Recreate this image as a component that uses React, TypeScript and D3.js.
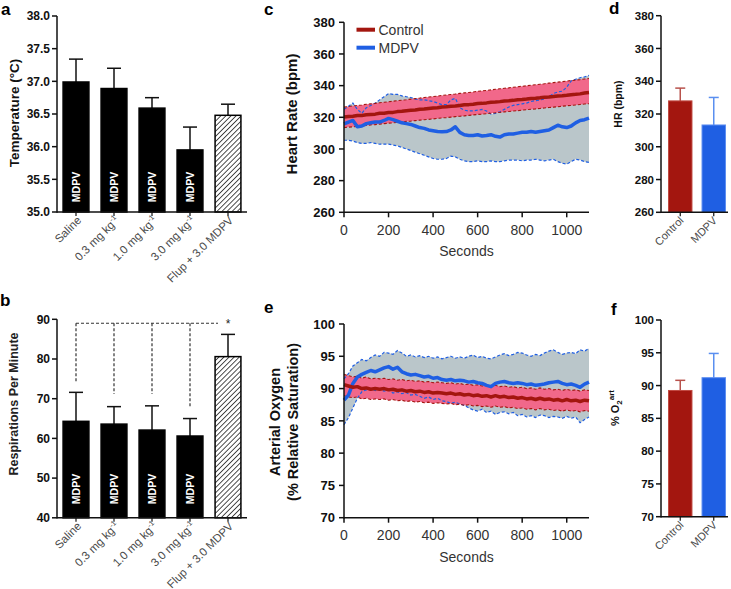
import React from 'react';
import * as d3 from 'd3';

const FONT = "'Liberation Sans', Arial, Helvetica, sans-serif";

// ---------- Panels a & b (bar charts) ----------
const barCats = ['Saline', '0.3 mg kg', '1.0 mg kg', '3.0 mg kg', 'Flup + 3.0 MDPV'];
const barSup = ['', '-1', '-1', '-1', ''];
const barHatched = [false, false, false, false, true];
const barInnerLabel = ['MDPV', 'MDPV', 'MDPV', 'MDPV', ''];
const tempMean = [36.99, 36.89, 36.59, 35.95, 36.48];
const tempErrTop = [37.34, 37.2, 36.75, 36.3, 36.65];
const tempTicks = [35.0, 35.5, 36.0, 36.5, 37.0, 37.5, 38.0];
const respMean = [64.3, 63.6, 62.1, 60.6, 80.6];
const respErrTop = [71.6, 68.0, 68.2, 65.0, 86.2];
const respTicks = [40, 50, 60, 70, 80, 90];
const bracketDrop = [74.3, 71.2, 71.2, 67.9];
const bracketLevel = 89;

// ---------- Panels d & f (group bars) ----------
const groupCats = ['Control', 'MDPV'];
const hrBarMean = [328.0, 313.3];
const hrBarErrTop = [335.8, 330.1];
const hrTicks = [260, 280, 300, 320, 340, 360, 380];
const o2BarMean = [89.25, 91.2];
const o2BarErrTop = [90.8, 94.9];
const o2Ticks = [70, 75, 80, 85, 90, 95, 100];

// ---------- Panels c & e (time series) ----------
const secTicks = [0, 200, 400, 600, 800, 1000];
const timeSec = [0, 20, 40, 60, 80, 100, 120, 140, 160, 180, 200, 220, 240, 260, 280, 300, 320, 340, 360, 380, 400, 420, 440, 460, 480, 500, 520, 540, 560, 580, 600, 620, 640, 660, 680, 700, 720, 740, 760, 780, 800, 820, 840, 860, 880, 900, 920, 940, 960, 980, 1000, 1020, 1040, 1060, 1080, 1100];

const hrCtlMean = [320.2, 320.5, 320.7, 321.1, 321.2, 321.6, 321.8, 322.0, 322.5, 322.6, 323.0, 323.1, 323.6, 323.8, 324.2, 324.4, 324.6, 325.1, 325.2, 325.6, 325.8, 326.0, 326.5, 326.6, 327.0, 327.1, 327.5, 327.9, 328.0, 328.3, 328.7, 328.8, 329.1, 329.5, 329.6, 329.9, 330.3, 330.4, 330.7, 331.1, 331.2, 331.5, 331.9, 332.0, 332.3, 332.7, 332.8, 333.1, 333.5, 333.6, 333.9, 334.3, 334.5, 334.8, 335.3, 335.6];
const hrCtlHi = [326.5, 326.8, 327.2, 327.5, 327.8, 328.2, 328.5, 328.8, 329.2, 329.5, 329.8, 330.2, 330.5, 330.8, 331.1, 331.5, 331.8, 332.1, 332.5, 332.8, 333.1, 333.4, 333.8, 334.1, 334.4, 334.7, 335.1, 335.4, 335.7, 336.0, 336.4, 336.7, 337.0, 337.3, 337.7, 338.0, 338.3, 338.6, 339.0, 339.3, 339.6, 339.9, 340.3, 340.6, 340.9, 341.2, 341.6, 341.9, 342.2, 342.5, 342.9, 343.2, 343.5, 343.8, 344.2, 344.5];
const hrCtlLo = [313.5, 313.8, 314.0, 314.3, 314.6, 314.9, 315.2, 315.4, 315.7, 316.0, 316.3, 316.5, 316.8, 317.1, 317.4, 317.6, 317.9, 318.2, 318.5, 318.7, 319.0, 319.3, 319.6, 319.8, 320.1, 320.4, 320.7, 320.9, 321.2, 321.5, 321.8, 322.0, 322.3, 322.6, 322.9, 323.1, 323.4, 323.7, 324.0, 324.2, 324.5, 324.8, 325.1, 325.3, 325.6, 325.9, 326.2, 326.4, 326.7, 327.0, 327.3, 327.5, 327.8, 328.1, 328.4, 328.6];
const hrMdMean = [315.8, 317.0, 318.0, 314.0, 314.5, 316.0, 316.5, 317.0, 317.0, 318.0, 319.3, 318.5, 317.5, 316.5, 316.0, 315.5, 314.5, 313.5, 313.0, 312.0, 311.5, 311.0, 310.8, 311.0, 312.0, 314.0, 310.5, 309.0, 308.5, 308.5, 309.0, 308.2, 308.5, 309.0, 308.0, 307.5, 309.0, 309.5, 309.5, 310.0, 310.5, 310.5, 311.0, 310.5, 311.0, 311.5, 312.0, 313.5, 315.0, 314.0, 313.5, 314.5, 316.5, 318.0, 318.5, 319.5];
const hrMdHi = [325.0, 327.0, 329.0, 325.0, 322.5, 326.0, 327.5, 329.0, 331.0, 333.0, 335.0, 334.5, 334.5, 333.5, 333.0, 332.5, 331.5, 331.0, 331.0, 330.5, 330.0, 329.0, 328.0, 328.0, 331.0, 332.0, 326.0, 324.5, 324.0, 324.0, 324.5, 325.0, 324.0, 322.0, 322.5, 323.5, 325.0, 326.5, 327.5, 328.0, 328.5, 329.0, 330.0, 330.5, 331.0, 331.5, 333.0, 335.0, 336.0, 336.5, 339.0, 343.0, 344.0, 345.0, 345.5, 346.5];
const hrMdLo = [305.5, 305.5, 305.0, 304.0, 303.5, 303.5, 304.0, 303.5, 303.0, 303.0, 303.0, 302.5, 302.0, 301.0, 300.0, 299.0, 298.0, 297.0, 296.0, 295.0, 294.0, 293.5, 293.5, 294.0, 295.5, 295.0, 293.5, 292.5, 292.0, 292.0, 292.5, 292.0, 292.0, 292.5, 292.0, 292.0, 292.5, 293.0, 293.0, 293.0, 292.5, 293.0, 293.0, 293.5, 293.0, 292.5, 293.0, 293.5, 292.0, 291.0, 290.5, 292.0, 293.5, 293.0, 292.0, 291.5];

const o2CtlMean = [90.6, 90.4, 90.2, 90.3, 90.0, 90.1, 89.9, 90.0, 89.9, 90.0, 89.8, 89.9, 89.7, 89.8, 89.6, 89.7, 89.5, 89.6, 89.4, 89.5, 89.3, 89.4, 89.3, 89.2, 89.3, 89.1, 89.2, 89.0, 89.1, 88.9, 89.0, 88.8, 88.9, 88.7, 88.9, 88.7, 88.8, 88.6, 88.7, 88.5, 88.6, 88.4, 88.5, 88.3, 88.5, 88.3, 88.4, 88.2, 88.3, 88.1, 88.3, 88.1, 88.2, 88.0, 88.2, 88.1];
const o2CtlHi = [92.2, 92.0, 91.8, 91.9, 91.6, 91.8, 91.5, 91.6, 91.5, 91.6, 91.4, 91.5, 91.3, 91.4, 91.2, 91.3, 91.1, 91.2, 91.0, 91.1, 90.9, 91.0, 90.9, 90.8, 90.9, 90.7, 90.8, 90.6, 90.7, 90.5, 90.6, 90.4, 90.5, 90.3, 90.5, 90.3, 90.4, 90.2, 90.3, 90.1, 90.2, 90.0, 90.1, 89.9, 90.1, 89.9, 90.0, 89.8, 89.9, 89.7, 89.9, 89.7, 89.8, 89.6, 89.8, 89.7];
const o2CtlLo = [88.9, 88.7, 88.6, 88.7, 88.4, 88.5, 88.3, 88.4, 88.3, 88.4, 88.2, 88.3, 88.1, 88.2, 88.0, 88.1, 87.9, 88.0, 87.8, 87.9, 87.7, 87.8, 87.7, 87.6, 87.7, 87.5, 87.6, 87.4, 87.5, 87.3, 87.4, 87.2, 87.3, 87.1, 87.3, 87.1, 87.2, 87.0, 87.1, 86.9, 87.0, 86.8, 86.9, 86.7, 86.9, 86.7, 86.8, 86.6, 86.7, 86.5, 86.7, 86.5, 86.6, 86.4, 86.6, 86.5];
const o2MdMean = [88.2, 89.0, 90.8, 91.8, 92.2, 92.5, 92.8, 92.6, 92.9, 93.2, 93.4, 93.0, 93.3, 92.6, 92.3, 92.1, 92.2, 92.0, 91.8, 91.9, 91.6, 91.7, 91.4, 91.3, 91.4, 91.2, 91.3, 91.2, 91.0, 91.1, 90.9, 90.8, 90.5, 90.3, 90.8, 91.0, 91.1, 90.9, 90.8, 90.9, 90.8, 90.6, 90.7, 90.5, 90.6, 90.7, 90.9, 91.0, 91.1, 90.8, 90.6, 90.7, 90.5, 90.2, 90.7, 91.0];
const o2MdHi = [91.5, 92.3, 93.5, 94.0, 94.5, 94.3, 94.8, 95.2, 95.0, 95.6, 95.5, 95.3, 95.9, 95.5, 95.0, 95.2, 94.9, 95.1, 94.8, 95.0, 94.7, 94.9, 94.6, 94.8, 95.0, 94.7, 94.9, 94.7, 95.0, 95.2, 94.8, 95.0, 94.7, 94.6, 94.9, 95.2, 95.4, 95.1, 95.3, 95.6, 95.5, 95.2, 95.0, 95.3, 95.1, 95.5, 95.8, 96.0, 95.6, 95.3, 95.5, 95.6, 95.4, 96.0, 95.8, 96.2];
const o2MdLo = [84.4, 85.5, 87.0, 88.5, 89.5, 89.8, 90.0, 89.7, 89.9, 89.6, 89.8, 89.3, 89.5, 89.2, 89.4, 89.0, 89.1, 88.8, 88.5, 88.7, 88.3, 88.5, 88.1, 88.0, 87.7, 87.9, 87.6, 87.4, 87.0, 86.7, 86.5, 86.8, 86.3, 86.5, 86.0, 86.3, 86.4, 86.1, 86.3, 85.8, 86.0, 85.6, 85.8, 85.5, 85.9, 85.8, 85.5, 85.7, 85.6, 85.4, 85.7, 85.4, 85.6, 84.7, 85.2, 85.6];

const C_RED = '#a3160f';
const C_BLUE = '#1f5fe3';
const C_PINK = '#f1688a';
const C_GRAY = '#bac6ca';
const AX = '#111';
const LBL = '#4a4a4a';

function YAxis({ x, y, ticks, fmt, fontSize, gap = 7 }: any) {
  const [r0, r1] = y.range();
  return (
    <g>
      <line x1={x} x2={x} y1={r0 + 0.75} y2={r1} stroke={AX} strokeWidth={1.5} />
      {ticks.map((t: number) => (
        <g key={t}>
          <line x1={x - 5} x2={x} y1={y(t)} y2={y(t)} stroke={AX} strokeWidth={1.5} />
          <text x={x - gap} y={y(t)} dy="0.36em" textAnchor="end" fontWeight="bold" fontSize={fontSize} fill="#111">
            {fmt(t)}
          </text>
        </g>
      ))}
    </g>
  );
}

function RotLabel({ x, y, text, size, weight = 'bold', fill = '#111' }: any) {
  return (
    <text transform={`translate(${x},${y}) rotate(-90)`} textAnchor="middle" dy="0.35em" fontSize={size} fontWeight={weight} fill={fill}>
      {text}
    </text>
  );
}

function DoseBars({ y, mean, errTop, ticks, fmt, mdpvY, yLabel }: any) {
  const x = d3.scaleBand<number>().domain(barCats.map((_, i) => i)).range([57, 247]).paddingInner(0.32).paddingOuter(0.16);
  const axisY = y.range()[0];
  const bw = x.bandwidth();
  return (
    <g>
      {barCats.map((c, i) => {
        const x0 = x(i)!;
        const cx = x0 + bw / 2;
        return (
          <g key={c}>
            <line x1={cx} x2={cx} y1={y(mean[i])} y2={y(errTop[i])} stroke={AX} strokeWidth={1.5} />
            <line x1={cx - 7} x2={cx + 7} y1={y(errTop[i])} y2={y(errTop[i])} stroke={AX} strokeWidth={1.5} />
            <rect x={x0} y={y(mean[i])} width={bw} height={axisY - y(mean[i])}
              fill={barHatched[i] ? 'url(#hatch)' : '#000'} stroke="#000" strokeWidth={1.5} />
            {barInnerLabel[i] && (
              <text transform={`translate(${cx},${mdpvY}) rotate(-90)`} textAnchor="middle" dy="0.35em" fill="#fff" fontWeight="bold" fontSize={10.5}>
                {barInnerLabel[i]}
              </text>
            )}
            <line x1={cx} x2={cx} y1={axisY} y2={axisY + 4} stroke={AX} strokeWidth={1.2} />
            <text transform={`translate(${cx + 6},${axisY + 9}) rotate(-45)`} textAnchor="end" fontSize={11.5} fill={LBL}>
              {c}
              {barSup[i] && <tspan dy={-4.5} fontSize={7.5}>{barSup[i]}</tspan>}
            </text>
          </g>
        );
      })}
      <line x1={57} x2={247} y1={axisY} y2={axisY} stroke={AX} strokeWidth={1.5} />
      <YAxis x={57} y={y} ticks={ticks} fmt={fmt} fontSize={12} />
      {yLabel}
    </g>
  );
}

function GroupBars({ y, mean, errTop, ticks, yLabel }: any) {
  const x = d3.scaleBand<number>().domain([0, 1]).range([663.5, 730.5]).paddingInner(0.3).paddingOuter(0.15);
  const axisY = y.range()[0];
  const bw = x.bandwidth();
  const fills = [C_RED, C_BLUE];
  const strokes = ['#c04a42', '#5d8ef0'];
  const errCols = ['#b8524c', '#5a8ff0'];
  return (
    <g>
      {groupCats.map((c, i) => {
        const x0 = x(i)!;
        const cx = x0 + bw / 2;
        return (
          <g key={c}>
            <line x1={cx} x2={cx} y1={y(mean[i])} y2={y(errTop[i])} stroke={errCols[i]} strokeWidth={1.5} />
            <line x1={cx - 5} x2={cx + 5} y1={y(errTop[i])} y2={y(errTop[i])} stroke={errCols[i]} strokeWidth={1.5} />
            <rect x={x0} y={y(mean[i])} width={bw} height={axisY - y(mean[i])} fill={fills[i]} stroke={strokes[i]} strokeWidth={1} />
            <line x1={cx} x2={cx} y1={axisY} y2={axisY + 4} stroke={AX} strokeWidth={1.2} />
            <text transform={`translate(${cx + 4},${axisY + 9}) rotate(-45)`} textAnchor="end" fontSize={11} fill={LBL}>{c}</text>
          </g>
        );
      })}
      <line x1={661} x2={728} y1={axisY} y2={axisY} stroke={AX} strokeWidth={1.5} />
      <YAxis x={661} y={y} ticks={ticks} fmt={(t: number) => String(t)} fontSize={11.5} />
      {yLabel}
    </g>
  );
}

function TimePanel({ y, ticks, ctl, md, legend, yLabel }: any) {
  const x = d3.scaleLinear().domain([0, 1100]).range([344, 589]);
  const axisY = y.range()[0];
  const band = (hi: number[], lo: number[]) =>
    d3.area<number>().x((t) => x(t)).y0((_, i) => y(lo[i])).y1((_, i) => y(hi[i]))(timeSec) || '';
  const line = (vals: number[]) => d3.line<number>().x((t) => x(t)).y((_, i) => y(vals[i]))(timeSec) || '';
  return (
    <g>
      <path d={band(md.hi, md.lo)} fill={C_GRAY} />
      <path d={band(ctl.hi, ctl.lo)} fill={C_PINK} />
      <path d={line(md.hi)} fill="none" stroke={C_BLUE} strokeWidth={1.2} strokeDasharray="3,2" />
      <path d={line(md.lo)} fill="none" stroke={C_BLUE} strokeWidth={1.2} strokeDasharray="3,2" />
      <path d={line(ctl.hi)} fill="none" stroke={C_RED} strokeWidth={1.1} strokeDasharray="3,2" />
      <path d={line(ctl.lo)} fill="none" stroke={C_RED} strokeWidth={1.1} strokeDasharray="3,2" />
      <path d={line(md.mean)} fill="none" stroke={C_BLUE} strokeWidth={3.5} strokeLinejoin="round" />
      <path d={line(ctl.mean)} fill="none" stroke={C_RED} strokeWidth={3.5} strokeLinejoin="round" />
      <line x1={344} x2={589} y1={axisY} y2={axisY} stroke={AX} strokeWidth={1.5} />
      {secTicks.map((t) => (
        <g key={t}>
          <line x1={x(t)} x2={x(t)} y1={axisY} y2={axisY + 5} stroke={AX} strokeWidth={1.5} />
          <text x={x(t)} y={axisY + 22.5} textAnchor="middle" fontSize={14} fill="#333">{t}</text>
        </g>
      ))}
      <text x={466.5} y={axisY + 44} textAnchor="middle" fontSize={14} fill="#333">Seconds</text>
      <YAxis x={344} y={y} ticks={ticks} fmt={(t: number) => String(t)} fontSize={13} gap={9} />
      {legend && (
        <g>
          <line x1={356.5} x2={375} y1={29.7} y2={29.7} stroke={C_RED} strokeWidth={4} />
          <text x={378.5} y={29.7} dy="0.36em" fontSize={14} fill="#333">Control</text>
          <line x1={356.5} x2={375} y1={47.7} y2={47.7} stroke={C_BLUE} strokeWidth={4} />
          <text x={378.5} y={47.7} dy="0.36em" fontSize={14} fill="#333">MDPV</text>
        </g>
      )}
      {yLabel}
    </g>
  );
}

export default function App() {
  const yTemp = d3.scaleLinear().domain([35, 38]).range([212, 16]);
  const yResp = d3.scaleLinear().domain([40, 90]).range([517.8, 319.3]);
  const yHR = d3.scaleLinear().domain([260, 380]).range([212.3, 22.3]);
  const yO2 = d3.scaleLinear().domain([70, 100]).range([517.7, 324]);
  const yHRbar = d3.scaleLinear().domain([260, 380]).range([212.3, 15.7]);
  const yO2bar = d3.scaleLinear().domain([70, 100]).range([516.7, 320]);

  const xB = d3.scaleBand<number>().domain(barCats.map((_, i) => i)).range([57, 247]).paddingInner(0.32).paddingOuter(0.16);
  const cxB = (i: number) => xB(i)! + xB.bandwidth() / 2;

  return (
    <svg width={731} height={589} style={{ position: 'absolute', left: 0, top: 0, background: '#fff' }} fontFamily={FONT}>
      <defs>
        <pattern id="hatch" patternUnits="userSpaceOnUse" width={3.6} height={3.6} patternTransform="rotate(45)">
          <rect width={3.6} height={3.6} fill="#fff" />
          <line x1={0} y1={0} x2={0} y2={3.6} stroke="#222" strokeWidth={1.6} />
        </pattern>
      </defs>
      <rect width={731} height={589} fill="#fff" />

      {/* panel labels */}
      <g fontWeight="bold" fontSize={17} fill="#000">
        <text x={1} y={15}>a</text>
        <text x={0} y={306}>b</text>
        <text x={264} y={15}>c</text>
        <text x={609} y={14}>d</text>
        <text x={264} y={313}>e</text>
        <text x={611} y={315}>f</text>
      </g>

      <DoseBars y={yTemp} mean={tempMean} errTop={tempErrTop} ticks={tempTicks} fmt={(t: number) => t.toFixed(1)} mdpvY={187}
        yLabel={<RotLabel x={14} y={113} text="Temperature (°C)" size={13.5} />} />

      <DoseBars y={yResp} mean={respMean} errTop={respErrTop} ticks={respTicks} fmt={(t: number) => String(t)} mdpvY={489}
        yLabel={<RotLabel x={14} y={404} text="Respirations Per  Minute" size={12.5} fill="#222" />} />

      {/* significance bracket */}
      <g stroke="#333" strokeWidth={1.2} strokeDasharray="3,2" fill="none">
        <line x1={cxB(0)} x2={cxB(4) - 10} y1={yResp(bracketLevel)} y2={yResp(bracketLevel)} />
        {bracketDrop.map((v, i) => (
          <line key={i} x1={cxB(i)} x2={cxB(i)} y1={yResp(bracketLevel)} y2={yResp(v)} />
        ))}
      </g>
      <text x={cxB(4)} y={yResp(bracketLevel) + 5} textAnchor="middle" fontSize={12} fill="#222">*</text>

      <TimePanel y={yHR} ticks={hrTicks} legend
        ctl={{ mean: hrCtlMean, hi: hrCtlHi, lo: hrCtlLo }} md={{ mean: hrMdMean, hi: hrMdHi, lo: hrMdLo }}
        yLabel={<RotLabel x={292} y={114} text="Heart Rate (bpm)" size={15} />} />

      <TimePanel y={yO2} ticks={o2Ticks}
        ctl={{ mean: o2CtlMean, hi: o2CtlHi, lo: o2CtlLo }} md={{ mean: o2MdMean, hi: o2MdHi, lo: o2MdLo }}
        yLabel={<g>
          <RotLabel x={275} y={422} text="Arterial Oxygen" size={14.5} />
          <RotLabel x={293} y={422} text="(% Relative Saturation)" size={14.5} />
        </g>} />

      <GroupBars y={yHRbar} mean={hrBarMean} errTop={hrBarErrTop} ticks={hrTicks}
        yLabel={<RotLabel x={618} y={104} text="HR (bpm)" size={10.5} />} />

      <GroupBars y={yO2bar} mean={o2BarMean} errTop={o2BarErrTop} ticks={o2Ticks}
        yLabel={
          <text transform="translate(619,408) rotate(-90)" textAnchor="middle" fontSize={11} fontWeight="bold" fill="#111">
            % O<tspan dy={3} fontSize={8}>2</tspan><tspan dy={-8} fontSize={8}>art</tspan>
          </text>
        } />
    </svg>
  );
}
